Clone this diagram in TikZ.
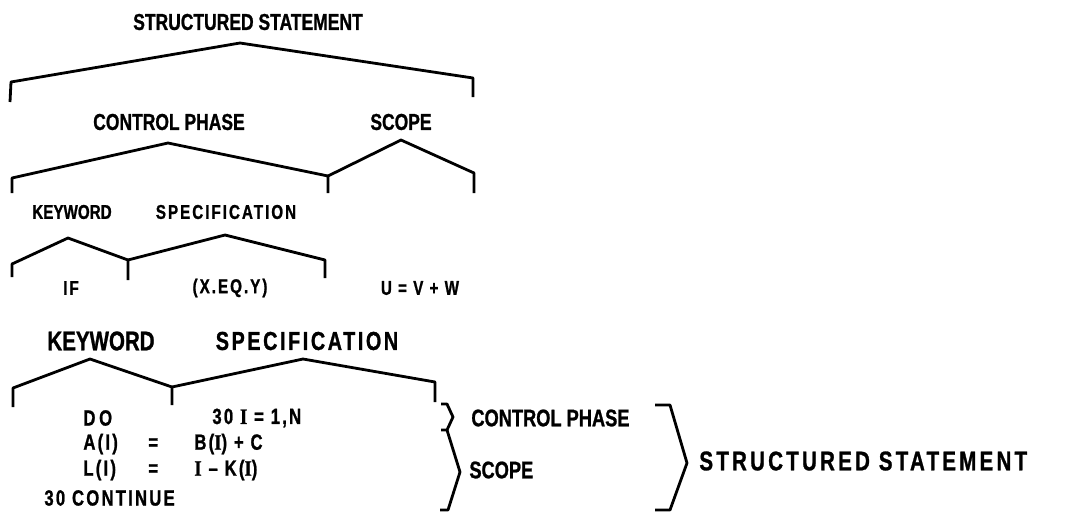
\documentclass[tikz,border=0pt]{standalone}
\usepackage{fontspec}
\newfontfamily\lblfont{Liberation Sans Bold}[FakeStretch=0.76,FakeBold=1]
\newfontfamily\widefont{Liberation Sans Bold}[FakeStretch=0.76,FakeBold=1,LetterSpace=10]
\newfontfamily\widerfont{Liberation Sans Bold}[FakeStretch=0.76,FakeBold=1,LetterSpace=12]
\newfontfamily\serI{Liberation Serif Bold}[FakeStretch=0.85,FakeBold=1]
\newcommand{\fs}[1]{\lblfont\fontsize{#1}{#1}\selectfont}
\newcommand{\ws}[1]{\widefont\fontsize{#1}{#1}\selectfont}
\newcommand{\vI}{{\serI I}}

\begin{document}
\begin{tikzpicture}[x=1pt,y=-1pt,line width=2.8pt,line join=round]
	\tikzstyle{every node}=[inner sep=0pt]
	\tikzstyle{big}=[font=\fs{23}]
	\tikzstyle{mid}=[font=\ws{20}]
	\tikzstyle{low}=[font=\ws{26}]
	\tikzstyle{code}=[font=\ws{22},anchor=west]
	\tikzstyle{brace}=[draw]

	\useasboundingbox (0,0) rectangle (1089,512);

	\node[big] (ss) at (248,22) {STRUCTURED STATEMENT};
	\node[big] (cp) at (169,122) {CONTROL PHASE};
	\node[big] (sc) at (401,122) {SCOPE};
	\node[mid,font=\fs{20}] (kw) at (72,212) {KEYWORD};
	\node[mid] (sp) at (226,212) {SPECIFICATION};
	\node[mid] (if) at (71,288) {IF};
	\node[mid] (xeqy) at (230,288) {(X.EQ.Y)};
	\node[mid] (uvw) at (420,288) {U = V + W};
	\node[low,font=\fs{27}] (kw2) at (101,341) {KEYWORD};
	\node[low] (sp2) at (307,341) {SPECIFICATION};

	\node[code] (do) at (82,418) {D\,O};
	\node[code] (loop) at (211,418) {30 \vI\ = 1,N};
	\node[code] (a) at (82,444) {A(I)};
	\node[code] (aeq) at (147,444) {=};
	\node[code] (arhs) at (193,444) {B(\vI) + C};
	\node[code] (l) at (82,470) {L(I)};
	\node[code] (leq) at (147,470) {=};
	\node[code] (lrhs) at (193,470) {\vI\ \textendash\ K(\vI)};
	\node[code] (cont) at (43,498) {30 CONTINUE};

	\node[code,font=\fs{24}] (cp2) at (470,418) {CONTROL PHASE};
	\node[code,font=\fs{24}] (sc2) at (468,470) {SCOPE};
	\node[code,font=\widerfont\fontsize{27}{27}\selectfont] (ss2) at (698,461) {STRUCTURED STATEMENT};

	\path[brace] (10,102) -- (11,82) -- (240,43) -- (473,78) -- (473,97);
	\path[brace] (12,193) -- (12,178) -- (168,143) -- (328,176) -- (328,193);
	\path[brace] (328,176) -- (401,140) -- (474,173) -- (474,193);
	\path[brace] (12,277) -- (12,264) -- (68,238) -- (128,260) -- (128,280);
	\path[brace] (128,260) -- (225,235) -- (325,260) -- (325,278);
	\path[brace] (13,407) -- (13,388) -- (90,359) -- (172,387) -- (172,405);
	\path[brace] (172,387) -- (303,359) -- (435,382) -- (435,402);
	\path[brace] (441,404) -- (447,404) -- (453,417) -- (447,430) -- (441,430);
	\path[brace] (447,430) -- (460,472) -- (448,510) -- (440,510);
	\path[brace] (655,405) -- (670,405) -- (687,463) -- (670,510) -- (655,510);
\end{tikzpicture}
\end{document}
